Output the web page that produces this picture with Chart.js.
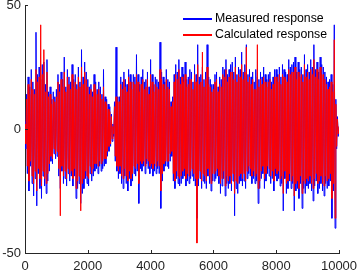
<!DOCTYPE html>
<html>
<head>
<meta charset="utf-8">
<script src="https://cdn.jsdelivr.net/npm/chart.js@4.4.1/dist/chart.umd.min.js"></script>
<style>
  html, body { margin: 0; padding: 0; background: #fff; }
  #wrap { width: 359px; height: 273px; position: relative; }
</style>
</head>
<body>
<div id="wrap"><canvas id="grafico"></canvas></div>
<script>
// amostras a cada 25 unidades, de 0 a 10000 (uma linha = 500 unidades)
const sampleStep = 25;

const measured = [
  3, -8, 14, -18, 21, -25, 17, -15, 24, -22, 19, -27, 16, -20, 39, -31, 22, -18, 25, -24,
  20, -28, 26, -19, 27, -23, 18, -26, 28, -21, 15, -17, 17, -13, 12, -14, 15, -10, 13, -12,
  16, -11, 22, -19, 18, -24, 23, -17, 20, -22, 29, -20, 17, -23, 24, -18, 21, -21, 19, -19,
  26, -23, 20, -19, 22, -28, 18, -24, 25, -22, 19, -30, 32, -26, 21, -24, 27, -20, 23, -22,
  20, -23, 17, -18, 18, -21, 15, -19, 22, -17, 19, -16, 16, -18, 19, -15, 17, -17, 14, -16,
  24, -15, 13, -14, 12, -11, 10, -9, 9, -7, 6, -5, 2, -3, 11, -13, 33, -17, 13, -20,
  13, -18, 21, -22, 19, -24, 23, -19, 20, -22, 18, -25, 24, -20, 22, -23, 19, -21, 22, -18,
  21, -19, 30, -17, 22, -30, 18, -16, 21, -17, 24, -15, 19, -18, 20, -14, 23, -16, 17, -18,
  28, -16, 22, -19, 18, -17, 21, -18, 20, -16, 19, -18, 35, -32, 23, -21, 21, -17, 19, -15,
  24, -15, 20, -16, 19, -13, 11, -11, 13, -21, 22, -24, 26, -20, 23, -22, 28, -23, 21, -22,
  25, -20, 22, -19, 27, -23, 20, -21, 21, -22, 24, -20, 23, -19, 19, -21, 26, -23, 22, -36,
  34, -23, 21, -20, 22, -24, 25, -21, 20, -22, 23, -24, 34, -19, 21, -22, 20, -25, 18, -21,
  18, -21, 22, -20, 23, -19, 17, -22, 21, -26, 20, -23, 25, -20, 24, -27, 28, -22, 22, -24,
  24, -22, 26, -25, 27, -21, 23, -35, 29, -24, 22, -26, 25, -22, 24, -21, 31, -23, 23, -21,
  26, -24, 34, -20, 22, -18, 24, -19, 21, -22, 23, -20, 19, -22, 24, -21, 21, -30, 20, -24,
  23, -20, 21, -18, 25, -24, 22, -21, 20, -18, 22, -19, 23, -22, 19, -20, 21, -25, 24, -19,
  24, -21, 22, -20, 25, -23, 21, -22, 26, -33, 24, -20, 23, -26, 22, -24, 28, -21, 25, -24,
  26, -22, 27, -33, 29, -25, 23, -24, 27, -28, 24, -22, 25, -32, 22, -24, 30, -26, 24, -23,
  26, -24, 23, -22, 28, -25, 25, -29, 34, -23, 24, -21, 27, -26, 23, -24, 29, -22, 26, -25,
  25, -27, 23, -22, 21, -24, 19, -23, 20, -21, 22, -36, 18, -25, 42, -40, 12, -8, 5, -3,
  1
];

const calculated = [
  2, -6, 12, -15, 18, -21, 14, -13, 20, -19, 16, -22, 14, -17, 24, -25, 19, -16, 21, -20,
  42, -23, 22, -17, 32, -20, 15, -22, 23, -18, 13, -14, 14, -11, 10, -12, 12, -8, 11, -10,
  13, -9, 19, -16, 15, -35, 20, -15, 17, -19, 23, -17, 15, -20, 21, -16, 18, -18, 16, -17,
  22, -20, 17, -16, 19, -24, 16, -21, 21, -19, 17, -33, 25, -22, 18, -20, 23, -17, 20, -19,
  17, -20, 14, -15, 16, -18, 13, -16, 18, -14, 16, -14, 14, -15, 16, -13, 14, -14, 12, -13,
  17, -12, 11, -12, 10, -9, 8, -7, 7, -6, 5, -4, 1, -2, 9, -11, 13, -15, 11, -17,
  11, -15, 18, -19, 16, -20, 20, -16, 17, -19, 15, -21, 21, -17, 19, -20, 16, -18, 19, -15,
  18, -16, 22, -14, 19, -22, 15, -13, 18, -14, 20, -13, 16, -15, 17, -12, 20, -13, 14, -15,
  22, -14, 19, -16, 15, -14, 18, -15, 17, -13, 16, -15, 24, -25, 20, -18, 18, -14, 16, -13,
  20, -13, 17, -13, 16, -10, 9, -9, 11, -18, 19, -21, 22, -17, 20, -19, 24, -20, 18, -19,
  21, -17, 19, -16, 22, -20, 17, -18, 18, -19, 20, -17, 20, -16, 16, -18, 22, -20, 19, -46,
  26, -20, 18, -17, 19, -21, 31, -18, 17, -19, 20, -21, 25, -16, 18, -19, 17, -22, 15, -18,
  16, -18, 19, -17, 20, -16, 15, -19, 18, -22, 17, -20, 22, -17, 21, -23, 24, -19, 19, -21,
  21, -19, 23, -22, 23, -18, 20, -26, 25, -21, 19, -22, 22, -19, 21, -18, 26, -20, 20, -18,
  23, -21, 33, -17, 19, -15, 21, -16, 18, -19, 20, -17, 16, -19, 16, -18, 34, -24, 17, -21,
  20, -17, 18, -15, 21, -20, 19, -18, 17, -15, 19, -16, 20, -19, 16, -17, 18, -21, 21, -16,
  21, -18, 19, -17, 22, -20, 18, -19, 22, -26, 21, -17, 20, -22, 19, -21, 24, -18, 22, -21,
  23, -19, 23, -27, 25, -22, 20, -21, 23, -24, 21, -19, 22, -26, 19, -21, 26, -22, 21, -20,
  23, -21, 20, -19, 24, -22, 22, -24, 28, -20, 21, -18, 24, -22, 20, -21, 25, -19, 22, -22,
  22, -23, 20, -19, 18, -21, 16, -20, 17, -18, 19, -28, 15, -22, 36, -36, 10, -7, 4, -2,
  1
];

const xTicks = [0, 2000, 4000, 6000, 8000, 10000];
const yTicks = [-50, 0, 50];
const seriesNames = ['Measured response', 'Calculated response'];

const axisColor = '#262626';
const fontFamily = '"Liberation Sans", Arial, Helvetica, sans-serif';

const times = measured.map((_, i) => i * sampleStep);
const toPoints = arr => arr.map((v, i) => ({ x: times[i], y: v }));

// ticks para dentro, como no MATLAB
const innerTicks = {
  id: 'innerTicks',
  afterDatasetsDraw(chart) {
    const { ctx, chartArea, scales } = chart;
    ctx.save();
    ctx.strokeStyle = axisColor;
    ctx.lineWidth = 1;
    ctx.beginPath();
    xTicks.forEach(t => {
      const px = Math.round(scales.x.getPixelForValue(t)) + 0.5;
      ctx.moveTo(px, chartArea.bottom);
      ctx.lineTo(px, chartArea.bottom - 3);
    });
    yTicks.forEach(t => {
      const py = Math.round(scales.y.getPixelForValue(t)) + 0.5;
      ctx.moveTo(chartArea.left, py);
      ctx.lineTo(chartArea.left + 3, py);
    });
    ctx.stroke();
    ctx.restore();
  }
};

// legenda sem caixa no canto superior direito
const cornerLegend = {
  id: 'cornerLegend',
  afterDraw(chart) {
    const { ctx, chartArea } = chart;
    const colors = ['#0000ff', '#ff0000'];
    const x0 = chartArea.right - 156;
    ctx.save();
    ctx.font = '12.3px ' + fontFamily;
    ctx.textBaseline = 'middle';
    ctx.fillStyle = '#000';
    seriesNames.forEach((name, i) => {
      const y = chartArea.top + 14 + i * 16;
      ctx.strokeStyle = colors[i];
      ctx.lineWidth = 2;
      ctx.beginPath();
      ctx.moveTo(x0, y);
      ctx.lineTo(x0 + 29, y);
      ctx.stroke();
      ctx.fillText(name, x0 + 32, y);
    });
    ctx.restore();
  }
};

new Chart(document.getElementById('grafico'), {
  type: 'line',
  data: {
    datasets: [{
      label: seriesNames[0],
      data: toPoints(measured),
      borderColor: '#0000ff',
      borderWidth: 1,
      pointRadius: 0,
      order: 2
    }, {
      label: seriesNames[1],
      data: toPoints(calculated),
      borderColor: '#ff0000',
      borderWidth: 1,
      pointRadius: 0,
      order: 1
    }]
  },
  options: {
    responsive: true,
    maintainAspectRatio: false,
    animation: false,
    layout: { padding: { top: 5, right: 20, left: 0, bottom: 0 } },
    plugins: {
      legend: { display: false },
      tooltip: { enabled: false }
    },
    scales: {
      x: {
        type: 'linear',
        min: 0,
        max: 10000,
        afterBuildTicks: s => { s.ticks = xTicks.map(v => ({ value: v })); },
        afterFit: s => { s.height = 20; s.paddingLeft = 0; s.paddingRight = 0; },
        grid: { display: false, drawTicks: false },
        border: { display: true, color: axisColor, width: 1 },
        ticks: {
          padding: 6,
          maxRotation: 0,
          color: axisColor,
          font: { family: fontFamily, size: 13 },
          callback: v => String(v)
        }
      },
      y: {
        min: -50,
        max: 50,
        afterBuildTicks: s => { s.ticks = yTicks.map(v => ({ value: v })); },
        afterFit: s => { s.width = 25; s.paddingTop = 0; s.paddingBottom = 0; },
        grid: { display: false, drawTicks: false },
        border: { display: true, color: axisColor, width: 1 },
        ticks: {
          padding: 4,
          color: axisColor,
          font: { family: fontFamily, size: 13 },
          callback: v => String(v)
        }
      }
    }
  },
  plugins: [innerTicks, cornerLegend]
});
</script>
</body>
</html>
